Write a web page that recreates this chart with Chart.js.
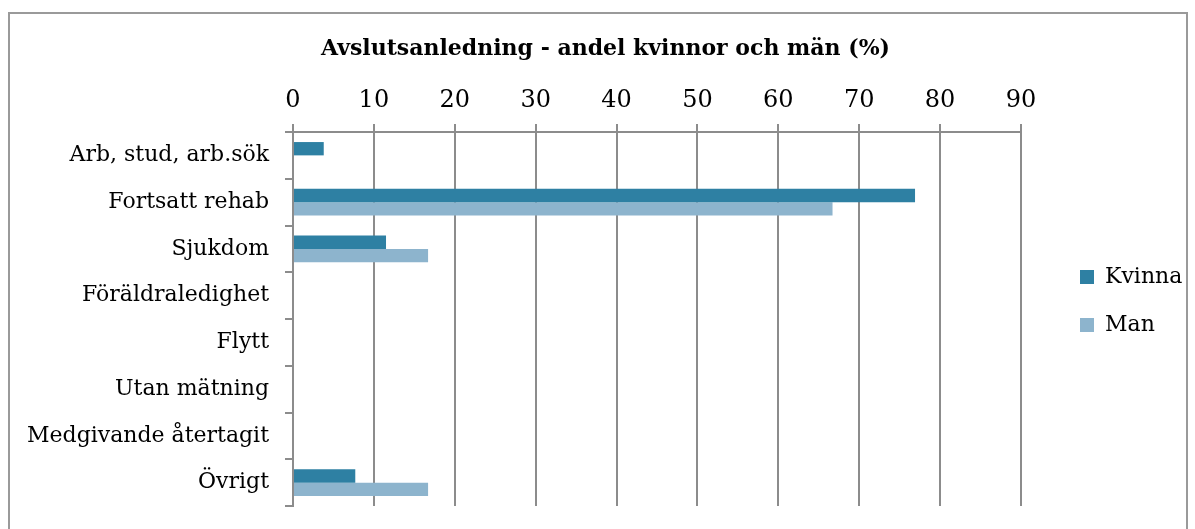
<!DOCTYPE html>
<html>
<head>
<meta charset="utf-8">
<script src="https://cdn.jsdelivr.net/npm/chart.js@4/dist/chart.umd.min.js"></script>
<style>
html,body{margin:0;padding:0;background:#fff;}
#wrap{position:absolute;left:0;top:0;width:1195px;height:529px;}
</style>
</head>
<body>
<div id="wrap"><canvas id="c" width="1195" height="529"></canvas></div>
<script>
const chartTitle = "Avslutsanledning - andel kvinnor och män (%)";
const categories = ["Arb, stud, arb.sök", "Fortsatt rehab", "Sjukdom", "Föräldraledighet", "Flytt", "Utan mätning", "Medgivande återtagit", "Övrigt"];
const seriesNames = ["Kvinna", "Man"];
const kvinnaValues = [3.8, 76.9, 11.5, 0, 0, 0, 0, 7.7];
const manValues = [0, 66.7, 16.7, 0, 0, 0, 0, 16.7];
const xMin = 0, xMax = 90, xStep = 10;

const FONT = "'DejaVu Serif', serif";
const GRID = '#8c8c8c';

const layoutTweaks = {
  id: 'layoutTweaks',
  beforeUpdate(chart) {
    const lg = chart.legend;
    if (lg && !lg._patched) {
      const origFit = lg.fit;
      lg.fit = function () { origFit.call(this); this.width = 174; };
      lg._patched = true;
    }
  },
  afterLayout(chart) {
    const lg = chart.legend;
    if (lg) {
      lg.left += 33; lg.right += 33;
      lg.top -= 18; lg.bottom -= 18;
    }
    const tb = chart.titleBlock;
    if (tb) { tb.left += 8; tb.right += 8; }
  },
  beforeDraw(chart) {
    const ctx = chart.ctx;
    ctx.save();
    ctx.fillStyle = '#fff';
    ctx.fillRect(0, 0, chart.width, chart.height);
    ctx.strokeStyle = '#9a9a9a';
    ctx.lineWidth = 2;
    ctx.strokeRect(9, 13, 1178, 530);
    ctx.restore();
  }
};

new Chart(document.getElementById('c'), {
  type: 'bar',
  data: {
    labels: categories,
    datasets: [
      { label: seriesNames[0], data: kvinnaValues, backgroundColor: '#2e80a3', borderWidth: 0 },
      { label: seriesNames[1], data: manValues, backgroundColor: '#8db4cd', borderWidth: 0 }
    ]
  },
  options: {
    indexAxis: 'y',
    responsive: false,
    animation: false,
    devicePixelRatio: 1,
    categoryPercentage: 0.57,
    barPercentage: 1.0,
    layout: { padding: { top: 0, left: 0, right: 0, bottom: 23 } },
    plugins: {
      title: {
        display: true,
        text: chartTitle,
        color: '#000',
        font: { family: FONT, size: 22, weight: 'bold' },
        padding: { top: 36, bottom: 0 }
      },
      legend: {
        position: 'right',
        fullSize: false,
        align: 'center',
        labels: {
          color: '#000',
          font: { family: FONT, size: 22 },
          boxWidth: 14,
          boxHeight: 14,
          padding: 26
        }
      },
      tooltip: { enabled: false }
    },
    scales: {
      x: {
        position: 'top',
        min: xMin,
        max: xMax,
        ticks: { stepSize: xStep, color: '#000', font: { family: FONT, size: 24 }, padding: 9 },
        grid: { color: GRID, lineWidth: 2, tickLength: 8, drawTicks: true },
        border: { color: GRID, width: 2 },
        afterFit(s) { s.height = 69.6; }
      },
      y: {
        ticks: { color: '#000', font: { family: FONT, size: 22 }, padding: 16 },
        grid: { drawOnChartArea: false, color: GRID, lineWidth: 2, tickLength: 8 },
        border: { color: GRID, width: 2 },
        afterFit(s) { s.width = 293; s.paddingTop = 0; s.paddingBottom = 0; }
      }
    }
  },
  plugins: [layoutTweaks]
});
</script>
</body>
</html>
